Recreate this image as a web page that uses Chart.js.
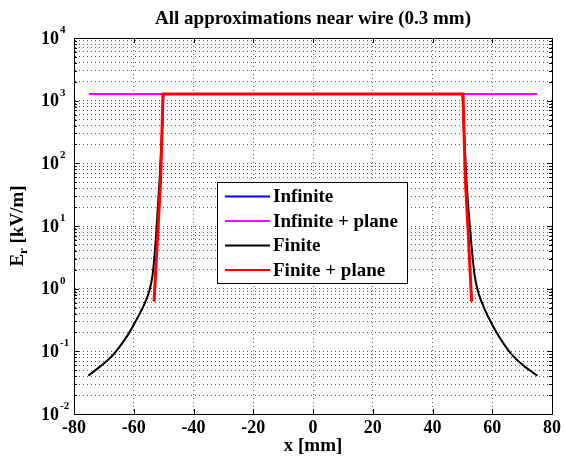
<!DOCTYPE html>
<html><head><meta charset="utf-8">
<script src="https://cdn.jsdelivr.net/npm/chart.js@4.4.1/dist/chart.umd.min.js"></script>
<style>html,body{margin:0;padding:0;background:#fff;}#wrap{width:565px;height:463px;}</style>
</head><body><div id="wrap"><canvas id="c" width="565" height="463"></canvas></div>
<script>
// ---- data ----
const titleText = 'All approximations near wire (0.3 mm)';
const xTitleText = 'x [mm]';
const yTitleMain = 'E';
const yTitleSub = 'r';
const yTitleRest = ' [kV/m]';
const seriesNames = ['Infinite', 'Infinite + plane', 'Finite', 'Finite + plane'];
const seriesColors = ['#0000ff', '#ff00ff', '#000000', '#ff0000'];
const xTickValues = [-80, -60, -40, -20, 0, 20, 40, 60, 80];
const yDecadeExponents = [-2, -1, 0, 1, 2, 3, 4];

const xInfinite = [-75, 75];
const yInfinite = [1280, 1280];
const xInfinitePlane = [-75, 75];
const yInfinitePlane = [1280, 1280];
const xFinite = [-75.2, -71.3, -66.9, -62.4, -59.1, -56.3, -54.7, -53.6, -52.4, -51.3, -50.5, -50,
                 50, 50.5, 51.3, 52.6, 54, 55.1, 56.4, 58.7, 62, 66.4, 70.9, 75.1];
const yFinite = [0.041, 0.057, 0.088, 0.17, 0.32, 0.59, 0.95, 1.8, 8.7, 60, 350, 1280,
                 1280, 350, 60, 8.7, 1.77, 0.95, 0.62, 0.35, 0.18, 0.09, 0.057, 0.041];
const xFinitePlane = [-53.2, -51.9, -51, -50.2, 50.2, 51, 51.9, 53.1];
const yFinitePlane = [0.62, 8.7, 54, 1280, 1280, 54, 8.7, 0.62];

// ---- helpers ----
const FONT = '"Liberation Serif", "Times New Roman", serif';
const pts = (xs, ys) => xs.map((x, i) => ({x: x, y: ys[i]}));
const seriesX = [xInfinite, xInfinitePlane, xFinite, xFinitePlane];
const seriesY = [yInfinite, yInfinitePlane, yFinite, yFinitePlane];
const seriesWidth = [2, 2, 2, 3];
const seriesOrder = [4, 3, 2, 1];

const datasets = seriesNames.map((n, i) => ({
  label: n,
  data: pts(seriesX[i], seriesY[i]),
  borderColor: seriesColors[i],
  backgroundColor: seriesColors[i],
  borderWidth: seriesWidth[i],
  pointRadius: 0,
  tension: 0,
  cubicInterpolationMode: i === 2 ? 'monotone' : 'default',
  fill: false,
  order: seriesOrder[i]
}));

const yTickValues = [];
yDecadeExponents.forEach(e => {
  for (let m = 1; m <= 9; m++) {
    if (e === 4 && m > 1) break;
    yTickValues.push(parseFloat((m * Math.pow(10, e)).toPrecision(6)));
  }
});

const decor = {
  id: 'decor',
  afterDatasetsDraw(chart) {
    const ctx = chart.ctx, a = chart.chartArea;
    const xs = chart.scales.x, ys = chart.scales.y;
    ctx.save();
    ctx.strokeStyle = '#000';
    ctx.lineWidth = 1;
    ctx.beginPath();
    xTickValues.forEach(v => {
      if (v === xs.min || v === xs.max) return;
      const px = Math.round(xs.getPixelForValue(v)) + 0.5;
      ctx.moveTo(px, a.bottom); ctx.lineTo(px, a.bottom - 5);
      ctx.moveTo(px, a.top); ctx.lineTo(px, a.top + 5);
    });
    yTickValues.forEach(v => {
      const py = Math.round(ys.getPixelForValue(v)) + 0.5;
      const major = Math.abs(Math.log10(v) - Math.round(Math.log10(v))) < 1e-9;
      const len = major ? 5 : 3;
      ctx.moveTo(a.left, py); ctx.lineTo(a.left + len, py);
      ctx.moveTo(a.right, py); ctx.lineTo(a.right - len, py);
    });
    ctx.stroke();
    ctx.strokeRect(Math.round(a.left) + 0.5, Math.round(a.top) + 0.5,
                   Math.round(a.right - a.left), Math.round(a.bottom - a.top));
    ctx.restore();
  },
  afterDraw(chart) {
    const ctx = chart.ctx, a = chart.chartArea;
    const ys = chart.scales.y;
    ctx.save();
    ctx.fillStyle = '#000';
    // title
    ctx.font = 'bold 19px ' + FONT;
    ctx.textAlign = 'center';
    ctx.textBaseline = 'middle';
    ctx.fillText(titleText, (a.left + a.right) / 2, 19);
    // y tick labels
    yDecadeExponents.forEach(e => {
      const py = ys.getPixelForValue(Math.pow(10, e));
      ctx.font = 'bold 18px ' + FONT;
      ctx.textAlign = 'right';
      ctx.textBaseline = 'middle';
      ctx.fillText('10', 59, py + 1);
      ctx.font = 'bold 11px ' + FONT;
      ctx.textAlign = 'left';
      ctx.fillText(String(e), 60, py - 8);
    });
    // y title
    ctx.translate(18, (a.top + a.bottom) / 2);
    ctx.rotate(-Math.PI / 2);
    ctx.textBaseline = 'middle';
    ctx.textAlign = 'left';
    const fMain = 'bold 19px ' + FONT, fSub = 'bold 13px ' + FONT;
    ctx.font = fMain; const w1 = ctx.measureText(yTitleMain).width, w3 = ctx.measureText(yTitleRest).width;
    ctx.font = fSub; const w2 = ctx.measureText(yTitleSub).width;
    let x0 = -(w1 + w2 + w3) / 2;
    ctx.font = fMain; ctx.fillText(yTitleMain, x0, 0); x0 += w1;
    ctx.font = fSub; ctx.fillText(yTitleSub, x0, 6); x0 += w2;
    ctx.font = fMain; ctx.fillText(yTitleRest, x0, 0);
    ctx.restore();

    // legend
    ctx.save();
    const L = 217, T = 182, R = 407, B = 283;
    ctx.fillStyle = '#fff';
    ctx.fillRect(L, T, R - L, B - T);
    ctx.strokeStyle = '#000';
    ctx.lineWidth = 1;
    ctx.strokeRect(L + 0.5, T + 0.5, R - L, B - T);
    const rows = [196.5, 221, 245.5, 270];
    chart.data.datasets.forEach((d, i) => {
      ctx.strokeStyle = d.borderColor;
      ctx.lineWidth = 2;
      ctx.beginPath();
      ctx.moveTo(225, rows[i]); ctx.lineTo(270, rows[i]);
      ctx.stroke();
      ctx.fillStyle = '#000';
      ctx.font = 'bold 19px ' + FONT;
      ctx.textAlign = 'left';
      ctx.textBaseline = 'middle';
      ctx.fillText(d.label, 273, rows[i] + 1);
    });
    ctx.restore();
  }
};

new Chart(document.getElementById('c').getContext('2d'), {
  type: 'line',
  data: { datasets: datasets },
  options: {
    responsive: false,
    animation: false,
    devicePixelRatio: 1,
    layout: { padding: { left: 74, right: 11, top: 38, bottom: 0 } },
    plugins: { legend: { display: false }, title: { display: false }, tooltip: { enabled: false } },
    scales: {
      x: {
        type: 'linear', min: -80, max: 80,
        afterBuildTicks: s => { s.ticks = xTickValues.map(v => ({ value: v })); },
        ticks: { font: { family: FONT, size: 18, weight: 'bold' }, color: '#000', padding: 4, maxRotation: 0, autoSkip: false },
        grid: { color: 'rgba(0,0,0,0.65)', lineWidth: 1, drawTicks: false },
        border: { display: true, color: '#000', width: 1, dash: [1, 3] },
        title: { display: true, text: xTitleText, color: '#000', font: { family: FONT, size: 19, weight: 'bold' }, padding: { top: 0, bottom: 6 } },
        afterFit: s => { s.height = 49; }
      },
      y: {
        type: 'logarithmic', min: 0.01, max: 10000,
        afterBuildTicks: s => { s.ticks = yTickValues.map(v => ({ value: v })); },
        ticks: { display: false },
        grid: { color: 'rgba(0,0,0,0.65)', lineWidth: 1, drawTicks: false },
        border: { display: true, color: '#000', width: 1, dash: [1, 3] },
        afterFit: s => { s.width = 0; }
      }
    }
  },
  plugins: [decor]
});
</script></body></html>
